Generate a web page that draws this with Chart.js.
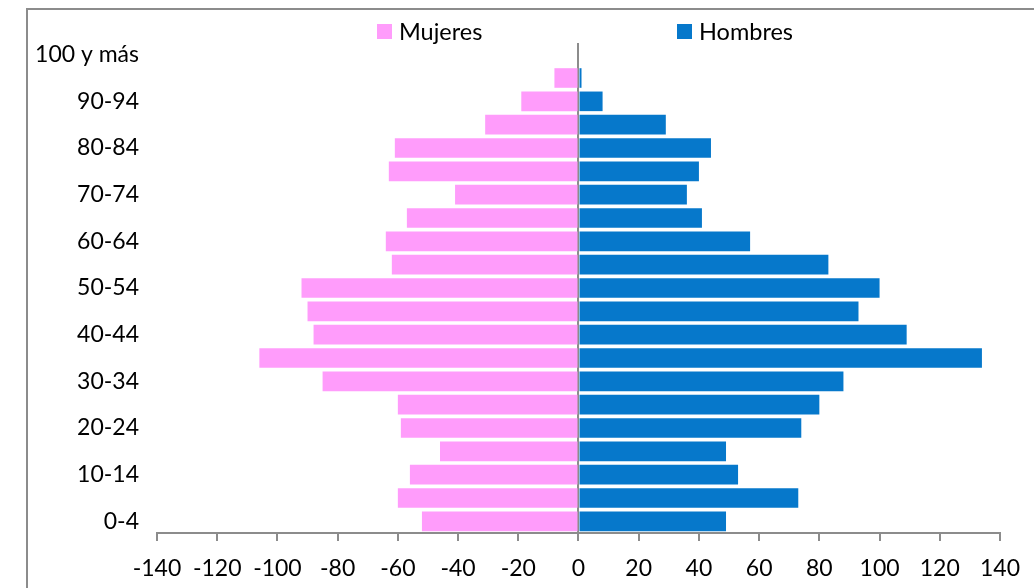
<!DOCTYPE html>
<html>
<head>
<meta charset="utf-8">
<script src="https://cdn.jsdelivr.net/npm/chart.js@4/dist/chart.umd.min.js"></script>
<style>
  html, body { margin: 0; padding: 0; background: #fff; overflow: hidden; }
  #wrap { position: relative; width: 1034px; height: 588px; }
  #frame { position: absolute; left: 26px; top: 8px; width: 1100px; height: 700px; border: 2px solid #8c8c8c; box-sizing: border-box; }
  #legend { position: absolute; top: 17px; left: 0; width: 1034px; font-family: Lato, sans-serif; font-size: 23.5px; color: #000; }
  .item { position: absolute; display: flex; align-items: center; }
  .box { width: 15px; height: 15px; margin-right: 7px; }
</style>
</head>
<body>
<div id="wrap">
  <div id="frame"></div>
  <canvas id="chart" width="1034" height="588"></canvas>
  <div id="legend"></div>
</div>
<script>
// age groups, bottom to top
const ageGroups = ['0-4', '5-9', '10-14', '15-19', '20-24', '25-29', '30-34', '35-39', '40-44', '45-49',
  '50-54', '55-59', '60-64', '65-69', '70-74', '75-79', '80-84', '85-89', '90-94', '95-99', '100 y más'];
// women are plotted to the left (negative)
const mujeres = [-52, -60, -56, -46, -59, -60, -85, -106, -88, -90,
  -92, -62, -64, -57, -41, -63, -61, -31, -19, -8, 0];
const hombres = [49, 73, 53, 49, 74, 80, 88, 134, 109, 93,
  100, 83, 57, 41, 36, 40, 44, 29, 8, 1, 0];
const xTicks = [-140, -120, -100, -80, -60, -40, -20, 0, 20, 40, 60, 80, 100, 120, 140];

const pink = '#ff9cfb';
const blue = '#0678cb';
const font = { family: 'Lato, sans-serif', size: 23 };

// legend as html, the two items are spread apart like the original
const legendItems = [
  { label: 'Mujeres', color: pink, left: 377 },
  { label: 'Hombres', color: blue, left: 677 }
];
const legendEl = document.getElementById('legend');
legendItems.forEach(it => {
  const d = document.createElement('div');
  d.className = 'item';
  d.style.left = it.left + 'px';
  d.innerHTML = `<span class="box" style="background:${it.color}"></span><span>${it.label}</span>`;
  legendEl.appendChild(d);
});

new Chart(document.getElementById('chart'), {
  type: 'bar',
  data: {
    labels: ageGroups,
    datasets: [
      { label: 'Mujeres', data: mujeres, backgroundColor: pink, borderWidth: 0 },
      { label: 'Hombres', data: hombres, backgroundColor: blue, borderWidth: 0 }
    ]
  },
  options: {
    indexAxis: 'y',
    responsive: false,
    animation: false,
    layout: { padding: { left: 27, top: 43, right: 34, bottom: 0 } },
    datasets: { bar: { categoryPercentage: 0.84, barPercentage: 1 } },
    plugins: { legend: { display: false }, tooltip: { enabled: false } },
    scales: {
      x: {
        min: -140, max: 140,
        afterBuildTicks: axis => { axis.ticks = xTicks.map(v => ({ value: v })); },
        afterFit: axis => { axis.height = 55; },
        border: { display: true, color: '#8c8c8c', width: 2 },
        grid: {
          color: ctx => (ctx.tick && ctx.tick.value === 0 ? '#8c8c8c' : 'rgba(0,0,0,0)'),
          lineWidth: 2,
          tickColor: '#8c8c8c',
          tickLength: 8
        },
        ticks: { color: '#000', font: font, padding: 14, maxRotation: 0 }
      },
      y: {
        stacked: true,
        reverse: true,
        afterFit: axis => { axis.width = 130; },
        border: { display: false },
        grid: { display: false },
        ticks: {
          color: '#000', font: font, padding: 10, autoSkip: false,
          callback: function (val, i) { return i % 2 === 0 ? this.getLabelForValue(val) : ''; }
        }
      }
    }
  }
});
</script>
</body>
</html>
